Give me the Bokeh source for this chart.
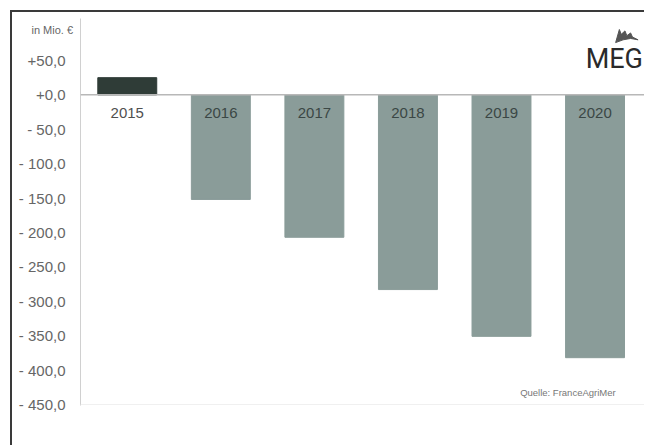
from bokeh.plotting import figure
from bokeh.models import Range1d, Span, Label, FixedTicker, ColumnDataSource
from bokeh.core.properties import value
from bokeh.embed import file_html
from bokeh.resources import INLINE

years = ["2015", "2016", "2017", "2018", "2019", "2020"]
values = [25, -152, -207, -283, -351, -382]
colors = ["#2f3c37", "#8a9c99", "#8a9c99", "#8a9c99", "#8a9c99", "#8a9c99"]
ticks = [50, 0, -50, -100, -150, -200, -250, -300, -350, -400, -450]
tick_labels = ["+50,0", "+0,0", "- 50,0", "- 100,0", "- 150,0", "- 200,0",
               "- 250,0", "- 300,0", "- 350,0", "- 400,0", "- 450,0"]
unit_label = "in Mio. €"
source_label = "Quelle: FranceAgriMer"

xs = [i + 0.5 for i in range(len(years))]
src = ColumnDataSource(dict(x=xs, top=values, color=colors, year=years,
                            ly=[-27] * len(years),
                            tc=["#505050"] + ["#3b4745"] * (len(years) - 1)))

p = figure(width=634, height=435, output_backend="svg", toolbar_location=None,
           x_range=Range1d(0, 6.05), y_range=Range1d(-451.5, 111),
           min_border_left=68, min_border_right=0, min_border_top=6, min_border_bottom=42)
p.styles = {"margin-left": "10px", "margin-top": "10px",
            "border-left": "2px solid #3a3a3a", "border-top": "2px solid #3a3a3a"}
p.outline_line_color = None
p.xgrid.visible = False
p.ygrid.visible = False
p.xaxis.visible = False
p.background_fill_color = "white"
p.border_fill_color = "white"

p.title.text = unit_label
p.title.align = "left"
p.title.offset = -49
p.title.standoff = -35
p.title.text_font = "Liberation Sans"
p.title.text_font_style = "normal"
p.title.text_font_size = "11px"
p.title.text_color = "#666666"

ya = p.yaxis[0]
ya.ticker = FixedTicker(ticks=ticks)
ya.major_label_overrides = {t: l for t, l in zip(ticks, tick_labels)}
ya.axis_line_color = "#d0d0d0"
ya.major_tick_line_color = None
ya.minor_tick_line_color = None
ya.major_tick_out = 0
ya.major_label_standoff = 15
ya.major_label_text_color = "#666666"
ya.major_label_text_font = "Liberation Sans"
ya.major_label_text_font_size = "15px"

p.vbar(x="x", top="top", bottom=0, width=0.63, color="color", source=src)
p.add_layout(Span(location=0, dimension="width", line_color="#b8b8b8", line_width=1.5))
p.add_layout(Span(location=-450, dimension="width", line_color="#f0f0f0", line_width=1))

p.text(x="x", y="ly", text="year", text_color="tc", text_align="center",
       text_baseline="middle", text_font=value("Liberation Sans"),
       text_font_size="15px", source=src)

p.add_layout(Label(x=5.21, y=-432.5, text=source_label, text_align="center",
                   text_baseline="middle", text_font="Liberation Sans",
                   text_font_size="9.5px", text_color="#777777"))

# logo
p.text(x=[5.40], y=[51.5], text=["MEG"], text_align="left", text_baseline="middle",
       text_font=value("Roboto"), text_font_size="27px",
       text_color="#2a2a2a")
p.patch(x=[5.72, 5.76, 5.78, 5.82, 5.84, 5.88, 5.90, 5.96, 5.88, 5.80, 5.72],
        y=[76, 95, 88, 93, 86, 90, 84, 80, 82, 80, 76], color="#555555")

open("out.html", "w").write(file_html(p, INLINE))
